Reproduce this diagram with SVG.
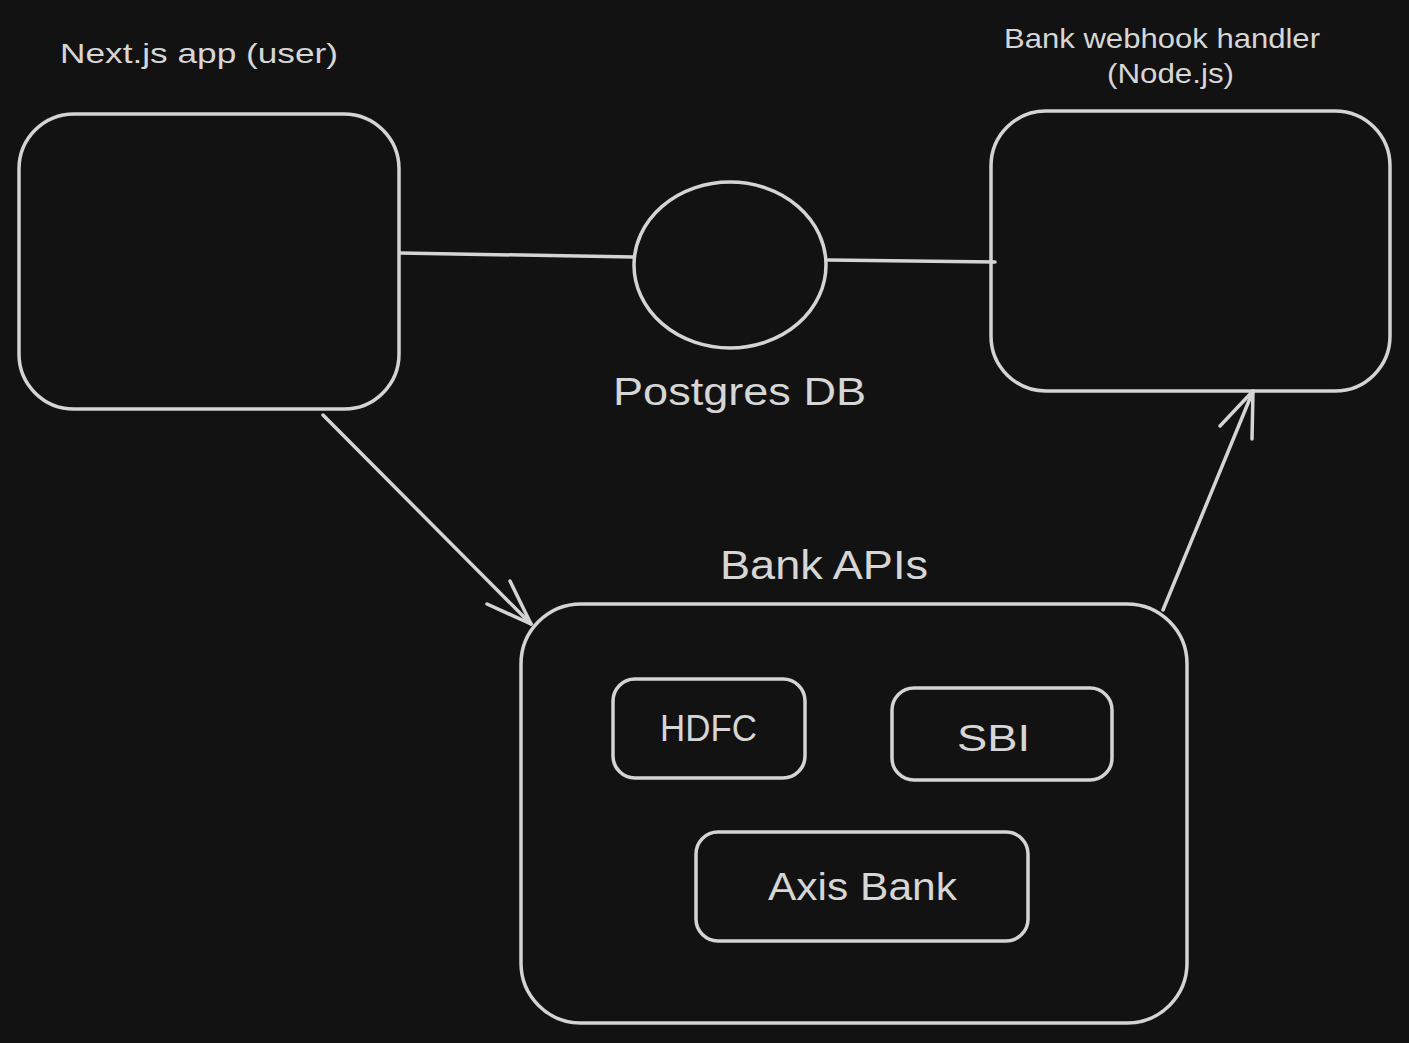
<svg xmlns="http://www.w3.org/2000/svg" width="1409" height="1043" viewBox="0 0 1409 1043">
<style>
.box{fill:none;stroke:#d4d4d4;stroke-width:3.5;stroke-linecap:round;stroke-linejoin:round}
.ln{fill:none;stroke:#d4d4d4;stroke-width:3.5;stroke-linecap:round;stroke-linejoin:round}
.t{fill:#d6d6d6;font-family:"Liberation Sans","DejaVu Sans",sans-serif;text-anchor:start}
</style>
<rect x="0" y="0" width="1409" height="1043" fill="#121212"/>
<g id="connectors">
<path class="ln" d="M400 253 L634 257"/>
<path class="ln" d="M828 260 L995 262"/>
<path class="ln" d="M323 415 L531 624"/>
<path class="ln" d="M510 581 L531 624 L487 604"/>
<path class="ln" d="M1163 610 L1253 391"/>
<path class="ln" d="M1220 426 L1253 391 L1252 439"/>
</g>
<g id="nextjs">
<rect class="box" x="19" y="114" width="380" height="295" rx="55" ry="55"/>
<text class="t" x="60" y="63" font-size="28" textLength="278" lengthAdjust="spacingAndGlyphs">Next.js app (user)</text>
</g>
<g id="webhook">
<rect class="box" x="991" y="111" width="399" height="280" rx="55" ry="55"/>
<text class="t" x="1004" y="48" font-size="28" textLength="316" lengthAdjust="spacingAndGlyphs">Bank webhook handler</text>
<text class="t" x="1107" y="83" font-size="28" textLength="127" lengthAdjust="spacingAndGlyphs">(Node.js)</text>
</g>
<g id="postgres">
<ellipse class="box" cx="730" cy="265" rx="96" ry="83"/>
<text class="t" x="613" y="405" font-size="38" textLength="253" lengthAdjust="spacingAndGlyphs">Postgres DB</text>
</g>
<g id="bankapis">
<rect class="box" x="521" y="604" width="666" height="419" rx="60" ry="60"/>
<text class="t" x="720" y="579" font-size="40" textLength="208" lengthAdjust="spacingAndGlyphs">Bank APIs</text>
</g>
<g id="hdfc">
<rect class="box" x="613" y="679" width="192" height="99" rx="22" ry="22"/>
<text class="t" x="660" y="741" font-size="36" textLength="97" lengthAdjust="spacingAndGlyphs">HDFC</text>
</g>
<g id="sbi">
<rect class="box" x="892" y="688" width="220" height="92" rx="22" ry="22"/>
<text class="t" x="957" y="751" font-size="36" textLength="73" lengthAdjust="spacingAndGlyphs">SBI</text>
</g>
<g id="axis">
<rect class="box" x="696" y="832" width="332" height="109" rx="22" ry="22"/>
<text class="t" x="768" y="900" font-size="38" textLength="189" lengthAdjust="spacingAndGlyphs">Axis Bank</text>
</g>
</svg>
